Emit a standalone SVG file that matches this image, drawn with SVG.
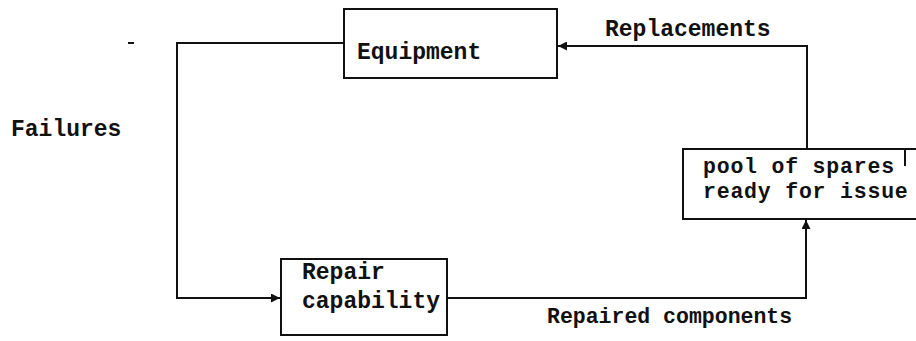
<svg xmlns="http://www.w3.org/2000/svg" width="916" height="341" viewBox="0 0 916 341">
<defs>
<style>
.box{fill:#fff;stroke:#111;stroke-width:2}
.ln{fill:none;stroke:#111;stroke-width:2}
.t{font-family:"Liberation Mono","Courier New",monospace;font-weight:bold;font-size:23px;fill:#111}
.s{font-size:21.5px}
.p{font-size:21.5px;letter-spacing:0.8px}
</style>
<marker id="ah" viewBox="0 0 10 10" refX="10" refY="5" markerWidth="9" markerHeight="9" markerUnits="userSpaceOnUse" orient="auto">
<path d="M0,0 L10,5 L0,10 z" fill="#111"/>
</marker>
</defs>
<rect width="916" height="341" fill="#fff"/>
<g id="connectors">
<path class="ln" d="M344,43 H177 V298 H280" marker-end="url(#ah)"/>
<path class="ln" d="M807,149 V46 H558" marker-end="url(#ah)"/>
<path class="ln" d="M447,298 H806 V220" marker-end="url(#ah)"/>
<line class="ln" x1="128" y1="43" x2="134" y2="43"/>
</g>
<g id="equipment">
<rect class="box" x="344" y="9" width="213" height="69"/>
<text class="t" x="357" y="59">Equipment</text>
</g>
<g id="repair">
<rect class="box" x="281" y="259" width="166" height="76"/>
<text class="t" x="302" y="279">Repair</text>
<text class="t" x="302" y="308">capability</text>
</g>
<g id="pool">
<rect class="box" x="683" y="149" width="245" height="70"/>
<line class="ln" x1="905" y1="149" x2="905" y2="166"/>
<text class="t p" x="703" y="173">pool of spares</text>
<text class="t p" x="703" y="198">ready for issue</text>
</g>
<g id="labels">
<text class="t" x="11" y="136">Failures</text>
<text class="t" x="605" y="36">Replacements</text>
<text class="t s" x="547" y="323">Repaired components</text>
</g>
</svg>
